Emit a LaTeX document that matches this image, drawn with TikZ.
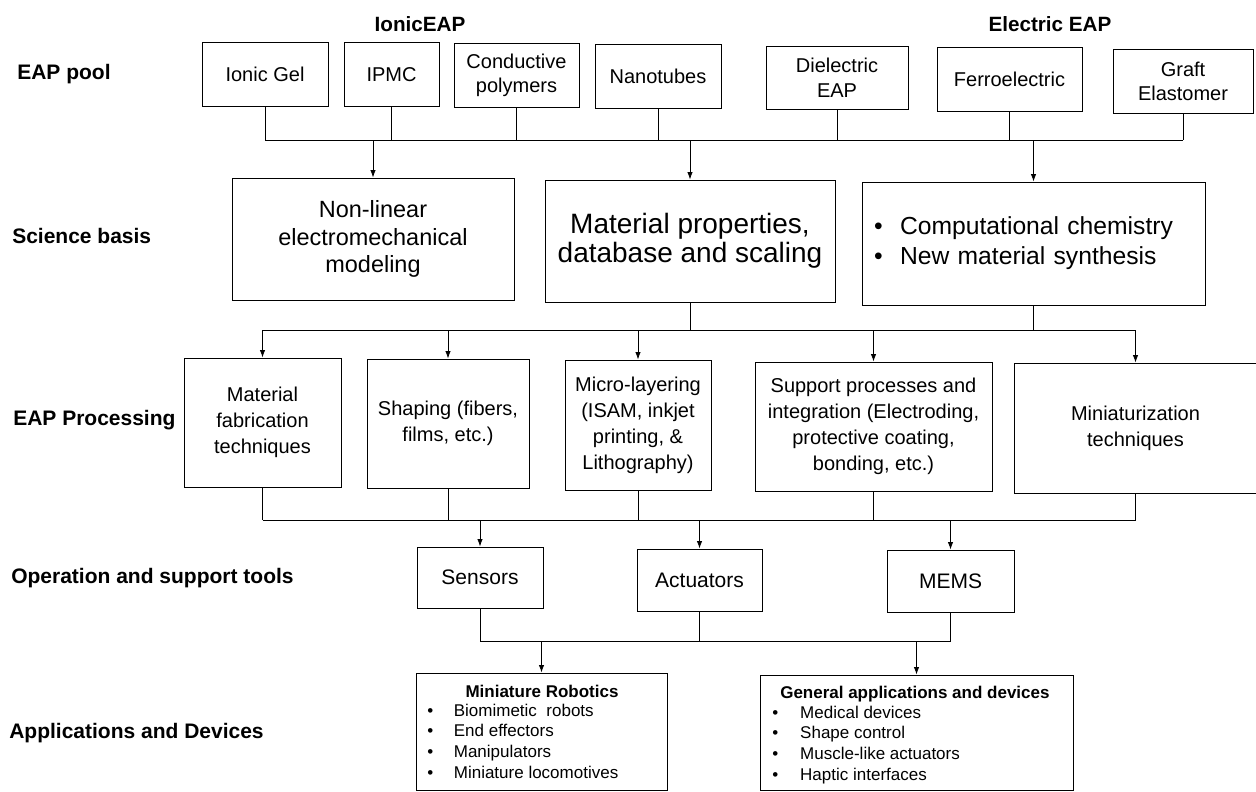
\documentclass[tikz,border=0pt]{standalone}
\usepackage{fontspec}
\setmainfont{Liberation Sans}
\usetikzlibrary{arrows.meta}
\newcommand{\eapbox}[7][]{%
  \pgfmathsetmacro{\eapcx}{(#3+#5)/2}%
  \pgfmathsetmacro{\eapcy}{(#4+#6)/2}%
  \pgfmathsetmacro{\eapw}{(#5-#3)*0.75}%
  \pgfmathsetmacro{\eaph}{(#6-#4)*0.75}%
  \node[box,#1,minimum width=\eapw pt,minimum height=\eaph pt] (#2) at (\eapcx,\eapcy) {#7};%
}
\begin{document}
\begin{tikzpicture}[x=0.75pt,y=-0.75pt,
  box/.style={draw, line width=0.75pt, inner sep=0pt, align=center},
  toptxt/.style={font=\fontsize{15}{18.4}\selectfont},
  scitxt/.style={font=\fontsize{17.6}{20.5}\selectfont},
  proctxt/.style={font=\fontsize{15}{19.5}\selectfont},
  tooltxt/.style={font=\fontsize{15.75}{19}\selectfont},
  rowlabel/.style={font=\bfseries\fontsize{15.75}{19}\selectfont, anchor=west, inner sep=0pt},
  header/.style={font=\bfseries\fontsize{15.5}{19}\selectfont, inner sep=0pt},
  apptitle/.style={font=\bfseries\fontsize{12.75}{15.7}\selectfont, inner sep=0pt},
  applist/.style={font=\fontsize{12.75}{15.7}\selectfont, inner sep=0pt, anchor=base west},
  conn/.style={line width=0.6pt},
  arr/.style={conn, -{Latex[length=5.5pt,width=4pt]}}]

\useasboundingbox (0,0) rectangle (1256,792);

% headers and row labels
\node[header] (ionichdr) at (420,24) {IonicEAP};
\node[header] (elechdr) at (1050,24) {Electric EAP};
\node[rowlabel] (lpool) at (17,74) {EAP pool};
\node[rowlabel] (lsci) at (12,236) {Science basis};
\node[rowlabel] (lproc) at (13,420) {EAP Processing};
\node[rowlabel] (lops) at (11,578) {Operation and support tools};
\node[rowlabel] (lapp) at (9,733) {Applications and Devices};

% EAP pool
\eapbox[toptxt]{ionic}{202}{43}{328}{106}{Ionic Gel}
\eapbox[toptxt]{ipmc}{344}{43}{439}{106}{IPMC}
\eapbox[toptxt]{cond}{454}{44}{579}{107}{Conductive\\polymers}
\eapbox[toptxt]{nano}{595}{45}{721}{108}{Nanotubes}
\eapbox[toptxt]{diel}{766}{47}{908}{109}{Dielectric\\EAP}
\eapbox[toptxt]{ferro}{937}{48}{1082}{111}{Ferroelectric}
\eapbox[toptxt]{graft}{1113}{50}{1253}{113}{Graft\\Elastomer}

% Science basis
\eapbox[scitxt]{nl}{232}{178}{514}{300}{Non-linear\\electromechanical\\modeling}
\eapbox[font=\fontsize{21}{21.5}\selectfont]{mat}{545}{180}{835}{302}{Material properties,\\database and scaling}
\eapbox[align=left,text width=257pt,font=\fontsize{18.5}{22.5}\selectfont]{comp}{862}{182}{1205}{305}{\hspace*{9pt}\textbullet\hspace{13pt}Computational chemistry\\\hspace*{9pt}\textbullet\hspace{13pt}New material synthesis}

% EAP processing
\eapbox[proctxt]{matfab}{184}{358}{341}{487}{Material\\fabrication\\techniques}
\eapbox[proctxt]{shaping}{367}{359}{529}{488}{Shaping (fibers,\\films, etc.)}
\eapbox[proctxt]{micro}{565}{360}{711}{490}{Micro-layering\\(ISAM, inkjet\\printing, \&\\Lithography)}
\eapbox[proctxt]{support}{755}{362}{992}{491}{Support processes and\\integration (Electroding,\\protective coating,\\bonding, etc.)}
\eapbox[proctxt]{mini}{1014}{363}{1257}{493}{Miniaturization\\techniques}

% Operation and support tools
\eapbox[tooltxt]{sensors}{417}{547}{543}{608}{Sensors}
\eapbox[tooltxt]{actuators}{637}{549}{762}{611}{Actuators}
\eapbox[tooltxt]{mems}{887}{550}{1014}{612}{MEMS}

% Applications
\eapbox{robo}{416}{673}{667}{790}{}
\eapbox{genapp}{760}{675}{1073}{790}{}
\node[apptitle] (robotitle) at (542,691) {Miniature Robotics};
\node[applist] (robolist) at (427,716) {\begin{tabular}[t]{@{}l@{}}
\textbullet\hspace{15.5pt}Biomimetic\ \ robots\\
\textbullet\hspace{15.5pt}End effectors\\
\textbullet\hspace{15.5pt}Manipulators\\
\textbullet\hspace{15.5pt}Miniature locomotives
\end{tabular}};
\node[apptitle,anchor=base west] (gentitle) at (780,698) {General applications and devices};
\node[applist] (genlist) at (772,718) {\begin{tabular}[t]{@{}l@{}}
\textbullet\hspace{16.5pt}Medical devices\\
\textbullet\hspace{16.5pt}Shape control\\
\textbullet\hspace{16.5pt}Muscle-like actuators\\
\textbullet\hspace{16.5pt}Haptic interfaces
\end{tabular}};

% buses
\coordinate (bus1) at (0,140);
\coordinate (bus2) at (0,330);
\coordinate (bus3) at (0,520);
\coordinate (bus4) at (0,641);

\foreach \n in {ionic,ipmc,cond,nano,diel,ferro,graft} \draw[conn] (\n.south) -- (\n.south |- bus1);
\draw[conn] (ionic.south |- bus1) -- (graft.south |- bus1);
\foreach \n in {nl,mat,comp} \draw[arr] (\n.north |- bus1) -- (\n.north);

\foreach \n in {mat,comp} \draw[conn] (\n.south) -- (\n.south |- bus2);
\draw[conn] (matfab.north |- bus2) -- (mini.north |- bus2);
\foreach \n in {matfab,shaping,micro,support,mini} \draw[arr] (\n.north |- bus2) -- (\n.north);

\foreach \n in {matfab,shaping,micro,support,mini} \draw[conn] (\n.south) -- (\n.south |- bus3);
\draw[conn] (matfab.south |- bus3) -- (mini.south |- bus3);
\foreach \n in {sensors,actuators,mems} \draw[arr] (\n.north |- bus3) -- (\n.north);

\foreach \n in {sensors,actuators,mems} \draw[conn] (\n.south) -- (\n.south |- bus4);
\draw[conn] (sensors.south |- bus4) -- (mems.south |- bus4);
\foreach \n in {robo,genapp} \draw[arr] (\n.north |- bus4) -- (\n.north);
\end{tikzpicture}
\end{document}
